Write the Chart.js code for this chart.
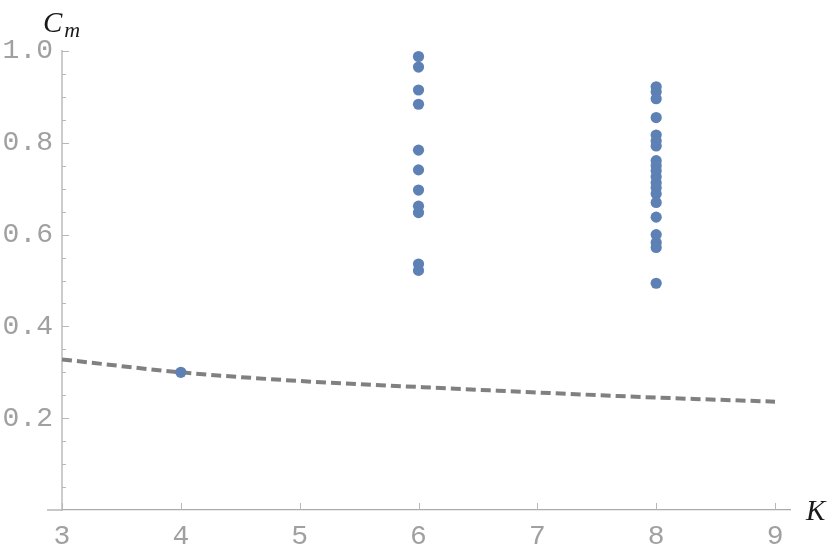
<!DOCTYPE html>
<html>
<head>
<meta charset="utf-8">
<script src="https://cdn.jsdelivr.net/npm/chart.js@4/dist/chart.umd.min.js"></script>
<style>
html,body{margin:0;padding:0;background:#fff;}
#wrap{width:830px;height:555px;position:relative;}
</style>
</head>
<body>
<div id="wrap"><canvas id="c" width="830" height="555"></canvas></div>
<script>
// ---- data ----
const kTicks = [3, 4, 5, 6, 7, 8, 9];
const cTicks = [0.2, 0.4, 0.6, 0.8, 1.0];
const cMinorTicks = [0.05, 0.1, 0.15, 0.25, 0.3, 0.35, 0.45, 0.5, 0.55, 0.65, 0.7, 0.75, 0.85, 0.9, 0.95];

const k4 = 4;
const c4 = [0.300];
const k6 = 6;
const c6 = [0.988, 0.965, 0.915, 0.884, 0.784, 0.741, 0.697, 0.662, 0.648, 0.536, 0.522];
const k8 = 8;
const c8 = [0.922, 0.911, 0.896, 0.855, 0.817, 0.804, 0.793, 0.761, 0.750, 0.739, 0.726, 0.713, 0.702, 0.689, 0.670, 0.638, 0.600, 0.583, 0.572, 0.494];

const curveK = [3, 4, 5, 6, 7, 8, 9];
const curveC = [0.328, 0.300, 0.281, 0.268, 0.256, 0.245, 0.236];

const xAxisStart = 2.874, xMin = 3, xMax = 9.126, yMin = 0, yMax = 1.0;

// ---- build ----
const pts = [];
c4.forEach(v => pts.push({x: k4, y: v}));
c6.forEach(v => pts.push({x: k6, y: v}));
c8.forEach(v => pts.push({x: k8, y: v}));
const curve = curveK.map((k, i) => ({x: k, y: curveC[i]}));

const tickFont = {family: '"Liberation Mono", "DejaVu Sans Mono", monospace', size: 28};
const tickColor = '#a0a0a0';

const tickMarks = {
  id: 'tickMarks',
  beforeDatasetsDraw(chart) {
    const {ctx, scales: {x, y}} = chart;
    const x0 = x.getPixelForValue(3);
    const y0 = y.getPixelForValue(0);
    ctx.save();
    // x-axis line extension to the left of the y axis
    ctx.strokeStyle = '#aaaaaa';
    ctx.lineWidth = 1.3;
    ctx.beginPath();
    ctx.moveTo(x.getPixelForValue(xAxisStart), y0);
    ctx.lineTo(x0, y0);
    ctx.stroke();
    ctx.strokeStyle = '#b8b8b8';
    ctx.lineWidth = 1;
    cTicks.forEach(v => {
      const py = Math.round(y.getPixelForValue(v)) + 0.5;
      ctx.beginPath(); ctx.moveTo(x0, py); ctx.lineTo(x0 + 7, py); ctx.stroke();
    });
    cMinorTicks.forEach(v => {
      const py = Math.round(y.getPixelForValue(v)) + 0.5;
      ctx.beginPath(); ctx.moveTo(x0, py); ctx.lineTo(x0 + 4, py); ctx.stroke();
    });
    kTicks.forEach(v => {
      const px = Math.round(x.getPixelForValue(v)) + 0.5;
      ctx.beginPath(); ctx.moveTo(px, y0); ctx.lineTo(px, y0 - 7); ctx.stroke();
    });
    ctx.restore();
  },
  afterDraw(chart) {
    const {ctx} = chart;
    ctx.save();
    ctx.fillStyle = '#1a1a1a';
    ctx.textBaseline = 'alphabetic';
    ctx.font = 'italic 29px "Liberation Serif", "DejaVu Serif", serif';
    ctx.textAlign = 'left';
    ctx.fillText('C', 43, 32);
    const cw = ctx.measureText('C').width;
    ctx.font = 'italic 22px "Liberation Serif", "DejaVu Serif", serif';
    ctx.fillText('m', 43 + cw + 2, 37);
    ctx.font = 'italic 29px "Liberation Serif", "DejaVu Serif", serif';
    ctx.fillText('K', 806, 520);
    ctx.restore();
  }
};

new Chart(document.getElementById('c'), {
  type: 'scatter',
  data: {
    datasets: [
      {
        type: 'line',
        data: curve,
        borderColor: '#808080',
        borderWidth: 4,
        borderDash: [10, 5],
        pointRadius: 0,
        fill: false,
        cubicInterpolationMode: 'monotone',
        clip: false,
        order: 2
      },
      {
        data: pts,
        backgroundColor: '#5E81B5',
        borderWidth: 0,
        pointRadius: 5.6,
        pointHoverRadius: 5.6,
        clip: false,
        order: 1
      }
    ]
  },
  options: {
    responsive: false,
    devicePixelRatio: 1,
    animation: false,
    events: [],
    layout: {padding: {left: 0, right: 40, top: 51, bottom: 45}},
    plugins: {legend: {display: false}, tooltip: {enabled: false}},
    scales: {
      x: {
        type: 'linear',
        axis: 'x',
        position: {y: 0},
        min: xMin, max: xMax,
        afterBuildTicks: s => { s.ticks = kTicks.map(v => ({value: v})); },
        grid: {display: true, drawOnChartArea: false, drawTicks: false},
        border: {display: true, color: '#aaaaaa', width: 1.3},
        ticks: {font: tickFont, color: tickColor, padding: 10, maxRotation: 0, autoSkip: false,
          callback: v => String(v)}
      },
      y: {
        type: 'linear',
        axis: 'y',
        position: 'left',
        min: yMin, max: yMax,
        afterBuildTicks: s => { s.ticks = cTicks.map(v => ({value: v})); },
        afterFit: s => { s.width = 62; },
        grid: {display: true, drawOnChartArea: false, drawTicks: false},
        border: {display: true, color: '#cccccc', width: 2},
        ticks: {font: tickFont, color: tickColor, padding: 9, autoSkip: false,
          callback: v => Number(v).toFixed(1)}
      }
    }
  },
  plugins: [tickMarks]
});
</script>
</body>
</html>
